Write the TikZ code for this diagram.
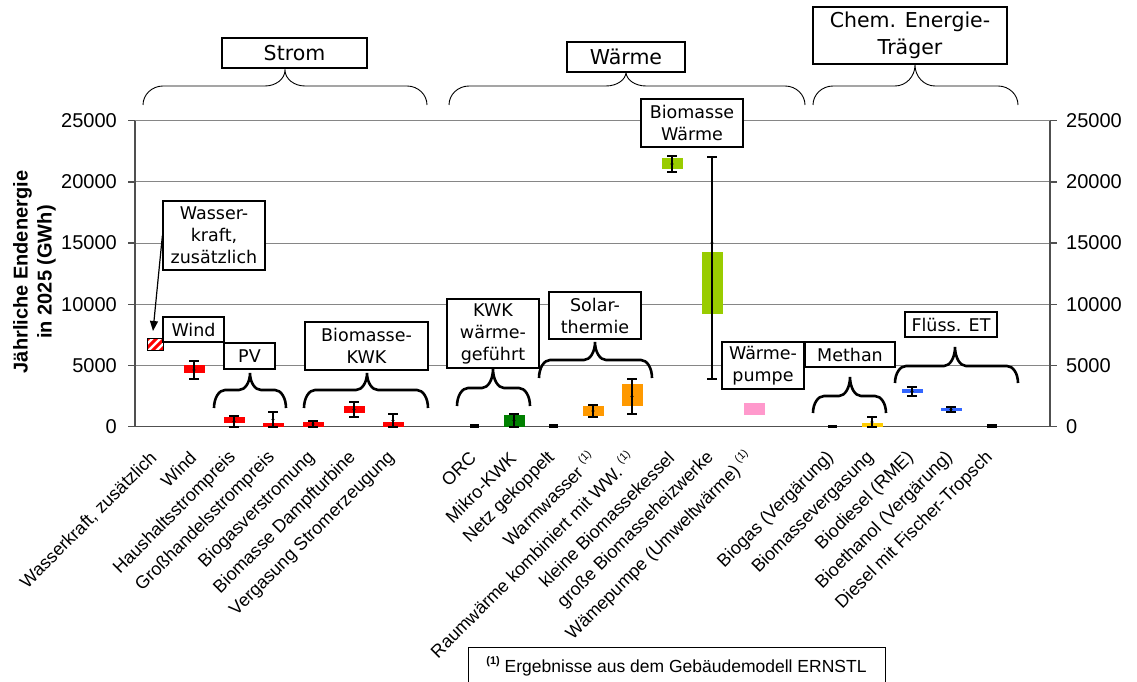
\documentclass[tikz,border=0pt]{standalone}
\usepackage{fontspec}
\setmainfont{Liberation Sans}
\newfontfamily\boxfont{DejaVu Sans}
\usetikzlibrary{arrows.meta}
\definecolor{gridgray}{HTML}{868686}
\definecolor{axisgray}{HTML}{505050}
\definecolor{cRed}{HTML}{FF0000}
\definecolor{cDGreen}{HTML}{008000}
\definecolor{cOrange}{HTML}{FF9900}
\definecolor{cLGreen}{HTML}{99CC00}
\definecolor{cPink}{HTML}{FF99CC}
\definecolor{cYellow}{HTML}{FFCC00}
\definecolor{cBlue}{HTML}{3366FF}
\tikzset{
  gridl/.style={draw=gridgray, line width=1pt},
  axisl/.style={draw=axisgray, line width=1.3pt},
  errbar/.style={draw=black, line width=2.5pt},
  thinbrace/.style={draw=black, line width=0.9pt},
  thickbrace/.style={draw=black, line width=2.6pt},
  topbox/.style={draw=black, fill=white, line width=1.1pt, inner sep=0pt, align=center,
    font=\boxfont\fontsize{20.5}{27}\selectfont},
  abox/.style={draw=black, fill=white, line width=1.2pt, inner sep=0pt, align=center,
    font=\boxfont\fontsize{17.5}{22}\selectfont},
  ticklbl/.style={inner sep=0pt, font=\fontsize{20}{24}\selectfont},
  catlbl/.style={inner sep=0pt, rotate=45, anchor=east, font=\fontsize{18}{22}\selectfont},
  ytitle/.style={inner sep=0pt, rotate=90, align=center, font=\bfseries\fontsize{20}{24}\selectfont},
  fnbox/.style={draw=black, line width=1pt, inner sep=0pt, font=\fontsize{17.5}{21}\selectfont}
}
\newcommand\ebar[3]{\draw[errbar] ({#1-5},#2) -- ({#1+5},#2) (#1,#2) -- (#1,#3) ({#1-5},#3) -- ({#1+5},#3);
  \fill[black] (#1,{(#2+#3)/2}) circle (1.6);}
\newcommand\dbar[4]{\fill[#1] ({#2-10.5},#3) rectangle ({#2+10.5},#4);}
\newcommand\cbrace[8]{%
  \draw[#1] (#2,#7) .. controls (#2,{#6+0.45*(#7-#6)}) and ({#2+0.45*#8},#6) .. ({#2+#8},#6)
   -- ({#4-#8},#6) .. controls ({#4-0.45*#8},#6) and (#4,{#6-0.45*(#6-#5)}) .. (#4,#5)
   .. controls (#4,{#6-0.45*(#6-#5)}) and ({#4+0.45*#8},#6) .. ({#4+#8},#6)
   -- ({#3-#8},#6) .. controls ({#3-0.45*#8},#6) and (#3,{#6+0.45*(#7-#6)}) .. (#3,#7);}
\newcommand\fnmark{\raisebox{0.45em}{\fontsize{11}{11}\selectfont(1)}}
\begin{document}
\begin{tikzpicture}[x=1pt,y=-1pt]
\useasboundingbox[fill=white] (0,0) rectangle (1137,682);
% grid
\foreach \yy in {365.5,304.3,243.1,181.9,120.7} \draw[gridl] (135,\yy) -- (1050,\yy);
% axes
\draw[axisl] (135,120.7) -- (135,426.7) -- (1050,426.7) -- (1050,120.7);
\foreach \v/\yy [count=\i] in {0/426.7,5000/365.5,10000/304.3,15000/243.1,20000/181.9,25000/120.7} {
  \draw[axisl] (128,\yy) -- (135,\yy);
  \draw[axisl] (1050,\yy) -- (1057,\yy);
  \node[ticklbl, anchor=east] (yl\i) at (117,\yy) {\v};
  \node[ticklbl, anchor=west] (yr\i) at (1066,\yy) {\v};
}
\node[ytitle] (ytitle) at (34.5,272) {Jährliche Endenergie\\in 2025 (GWh)};
% hatched bar Wasserkraft
\begin{scope}
  \clip (147,338) rectangle (163,350);
  \foreach \d in {-16,-8,0,8,16} \draw[cRed, line width=3pt] ({147+\d},356) -- ({167+\d},336);
\end{scope}
\draw[black, line width=1pt] (147,338) rectangle (163,350);
\coordinate (wktip) at (153,331);
% bars
\dbar{cRed}{194}{365}{373}\ebar{194}{361}{379}
\dbar{cRed}{234}{417}{423}\ebar{234}{416}{427}
\dbar{cRed}{273}{423}{427}\ebar{273}{412}{427}
\dbar{cRed}{313}{422}{427}\ebar{313}{421}{427}
\dbar{cRed}{354}{406}{413}\ebar{354}{402}{417}
\dbar{cRed}{393}{422}{427}\ebar{393}{414}{427}
\fill[black] (470,424) rectangle (479,427.5);
\dbar{cDGreen}{514}{415}{427}\ebar{514}{414}{427}
\fill[black] (549,424) rectangle (558,427.5);
\dbar{cOrange}{593}{406}{416}\ebar{593}{405}{417}
\dbar{cOrange}{632}{384}{406}\ebar{632}{379}{414}
\dbar{cLGreen}{672}{158}{169}\ebar{672}{156}{172}
\dbar{cLGreen}{712}{252}{314}
\draw[errbar] (707,157) -- (717,157) (712,157) -- (712,379) (707,379) -- (717,379);
\fill[black] (712,243) circle (1.6);
\dbar{cPink}{754}{403}{415}
\fill[black] (828,425) rectangle (837,428);
\dbar{cYellow}{872}{423}{427}\ebar{872}{417}{427}
\dbar{cBlue}{912}{389}{393}\ebar{912}{387}{396}
\dbar{cBlue}{951}{408}{411}\ebar{951}{407}{412}
\fill[black] (987,424) rectangle (997,427.5);
% top braces
\cbrace{thinbrace}{143}{427}{285}{70}{86}{105}{20}
\cbrace{thinbrace}{449}{805}{626}{72}{86}{105}{20}
\cbrace{thinbrace}{813}{1018}{915}{65}{86}{105}{20}
% lower braces
\cbrace{thickbrace}{214}{286}{250}{373}{390}{408}{11}
\cbrace{thickbrace}{304}{428}{367}{373}{390}{408}{11}
\cbrace{thickbrace}{457}{530}{493}{369}{388}{406}{11}
\cbrace{thickbrace}{539}{652}{595}{342}{360}{378}{11}
\cbrace{thickbrace}{813}{886}{850}{377}{396}{413}{11}
\cbrace{thickbrace}{895}{1018}{955}{347}{366}{383}{11}
% top boxes
\node[topbox, minimum width=145, minimum height=30] (strom) at (294.5,53) {Strom};
\node[topbox, minimum width=118, minimum height=30] (waerme) at (626,57) {Wärme};
\node[topbox, minimum width=194, minimum height=57] (chem) at (910,35.5) {Chem. Energie-\\Träger};
% annotation boxes
\node[abox, minimum width=102, minimum height=69] (wk) at (214,235.5) {Wasser-\\kraft,\\zusätzlich};
\draw[black, line width=1.2pt, -{Triangle[length=10pt,width=8pt]}] (wk.west) -- (wktip);
\node[abox, minimum width=61, minimum height=25] (wind) at (193.5,329.5) {Wind};
\node[abox, minimum width=51, minimum height=26] (pv) at (249.5,356) {PV};
\node[abox, minimum width=123, minimum height=48] (bkwk) at (366.5,346) {Biomasse-\\KWK};
\node[abox, minimum width=92, minimum height=69] (kwkw) at (493,333.5) {KWK\\wärme-\\geführt};
\node[abox, minimum width=92, minimum height=47] (solar) at (595,315.5) {Solar-\\thermie};
\node[abox, minimum width=102, minimum height=48] (bw) at (692,123) {Biomasse\\Wärme};
\node[abox, minimum width=82, minimum height=47] (wp) at (763,365.5) {Wärme-\\pumpe};
\node[abox, minimum width=90, minimum height=25] (methan) at (850,354.5) {Methan};
\node[abox, minimum width=92, minimum height=25] (fluess) at (951,324.5) {Flüss. ET};
% category labels
\node[catlbl] (c1) at (154,455) {Wasserkraft, zusätzlich};
\node[catlbl] (c2) at (193,455) {Wind};
\node[catlbl] (c3) at (233,455) {Haushaltsstrompreis};
\node[catlbl] (c4) at (272,455) {Großhandelsstrompreis};
\node[catlbl] (c5) at (312,455) {Biogasverstromung};
\node[catlbl] (c6) at (353,455) {Biomasse Dampfturbine};
\node[catlbl] (c7) at (392,455) {Vergasung Stromerzeugung};
\node[catlbl] (c8) at (473,455) {ORC};
\node[catlbl] (c9) at (513,455) {Mikro-KWK};
\node[catlbl] (c10) at (552,455) {Netz gekoppelt};
\node[catlbl] (c11) at (592,455) {Warmwasser \fnmark};
\node[catlbl] (c12) at (631,455) {Raumwärme kombiniert mit WW. \fnmark};
\node[catlbl] (c13) at (671,455) {kleine Biomassekessel};
\node[catlbl] (c14) at (711,455) {große Biomasseheizwerke};
\node[catlbl] (c15) at (750,455) {Wämepumpe (Umweltwärme) \fnmark};
\node[catlbl] (c16) at (831,455) {Biogas (Vergärung)};
\node[catlbl] (c17) at (871,455) {Biomassevergasung};
\node[catlbl] (c18) at (911,455) {Biodiesel (RME)};
\node[catlbl] (c19) at (950,455) {Bioethanol (Vergärung)};
\node[catlbl] (c20) at (990,455) {Diesel mit Fischer-Tropsch};
% footnote
\node[fnbox, minimum width=417, minimum height=38] (fn) at (676.5,666) {{\bfseries\fnmark} Ergebnisse aus dem Gebäudemodell ERNSTL};
\end{tikzpicture}
\end{document}
